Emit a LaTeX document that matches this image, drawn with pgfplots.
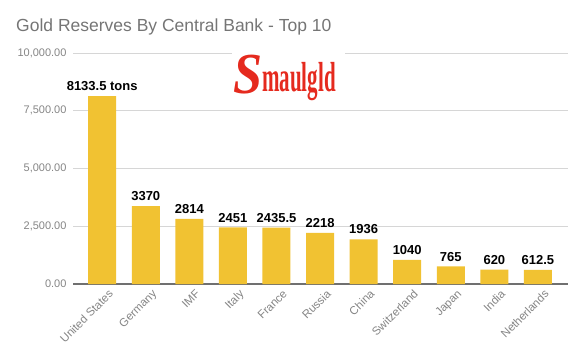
\documentclass[border=0pt]{standalone}
\usepackage{pgfplots}
\pgfplotsset{compat=1.18}
\usepackage{fontspec}
\setmainfont{Liberation Sans}
\newfontfamily\logofont{Liberation Serif}
\definecolor{barc}{HTML}{F1C232}
\definecolor{tickc}{HTML}{858585}
\definecolor{titlec}{HTML}{757575}
\definecolor{gridc}{HTML}{D6D6D6}
\definecolor{basec}{HTML}{707070}
\definecolor{logored}{HTML}{E52A1E}
\begin{document}
\begin{tikzpicture}
\path[use as bounding box] (0,0) rectangle (580pt,356pt);
\begin{axis}[
  at={(73pt,72pt)}, anchor=south west,
  scale only axis, width=495pt, height=231pt,
  xmin=-0.67, xmax=10.69, ymin=0, ymax=10000,
  ytick={0,2500,5000,7500,10000},
  xtick={0,...,10},
  xticklabels={United States,Germany,IMF,Italy,France,Russia,China,Switzerland,Japan,India,Netherlands},
  axis x line*=bottom, axis y line*=left,
  y axis line style={draw=none},
  x axis line style={draw=basec, line width=1.4pt},
  major tick length=0pt,
  ymajorgrids, grid style={draw=gridc, line width=0.8pt},
  /pgf/number format/assume math mode=true,
  yticklabel style={/pgf/number format/fixed, /pgf/number format/fixed zerofill, /pgf/number format/precision=2, /pgf/number format/1000 sep={,}, font=\fontsize{11}{11}\selectfont, text=tickc, xshift=-3pt},
  xticklabel style={rotate=45, anchor=north east, font=\fontsize{11.5}{11.5}\selectfont, text=tickc, xshift=4pt, yshift=-4pt},
  scaled y ticks=false,
  point meta=explicit symbolic,
  nodes near coords,
  every node near coord/.append style={font=\fontsize{13}{13}\selectfont\bfseries, text=black, anchor=south, inner sep=0pt, yshift=5pt},
]
\addplot[ybar, bar width=28pt, fill=barc, draw=none] table[meta=lab] {
x y lab
0 8133.5 {8133.5 tons}
1 3370 3370
2 2814 2814
3 2451 2451
4 2435.5 2435.5
5 2218 2218
6 1936 1936
7 1040 1040
8 765 765
9 620 620
10 612.5 612.5
};
\end{axis}
\node[anchor=base west, text=titlec, font=\fontsize{17.5}{17.5}\selectfont, inner sep=0pt] at (16pt,324pt) {Gold Reserves By Central Bank - Top 10};
\fill[white] (232pt,299pt) rectangle (345pt,308pt);
\node[anchor=base west, inner sep=0pt, text=logored] at (233pt,262pt) {\logofont\bfseries\itshape\fontsize{58}{58}\selectfont\scalebox{0.9}[1]{S}};
\node[anchor=base west, inner sep=0pt, text=logored] at (262pt,264pt) {\logofont\bfseries\fontsize{42}{42}\selectfont\scalebox{0.5}[1]{maulgld}};
\end{tikzpicture}
\end{document}
